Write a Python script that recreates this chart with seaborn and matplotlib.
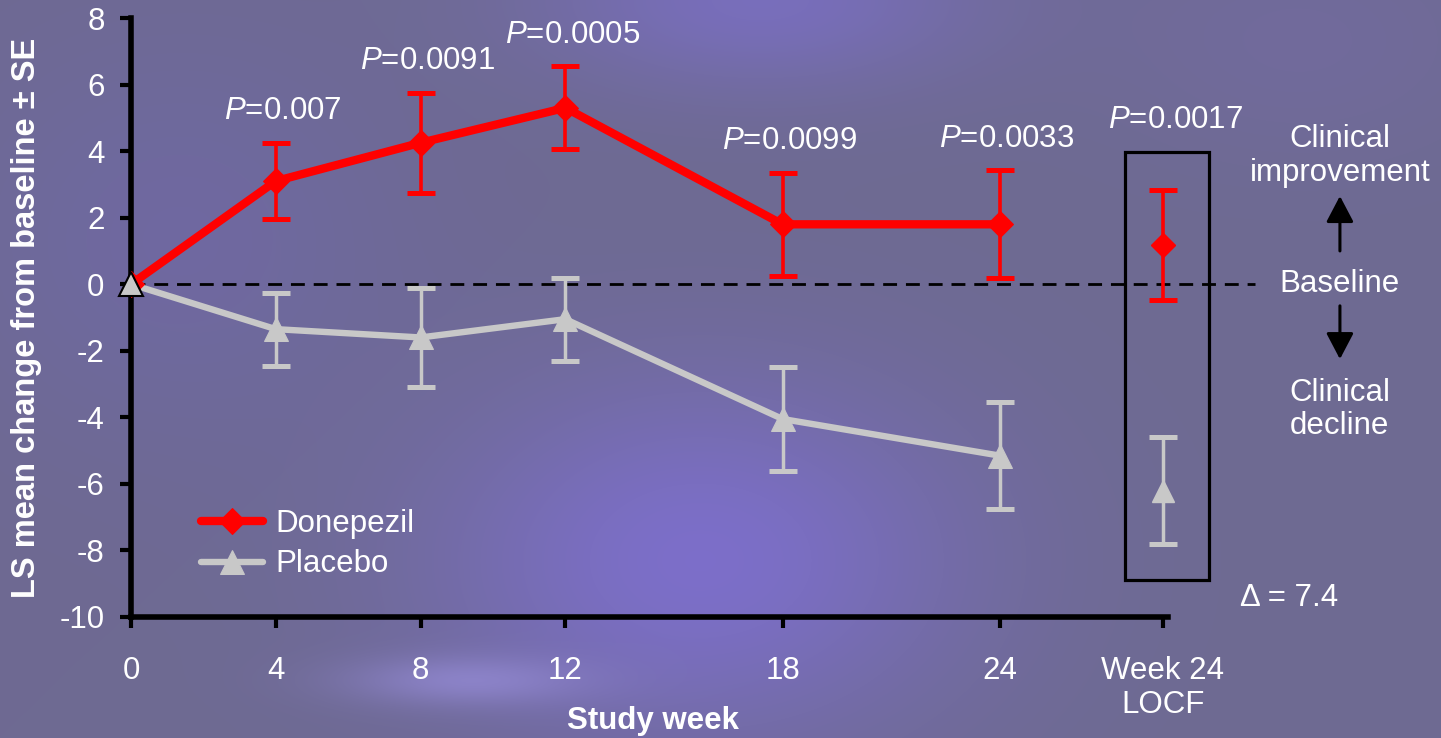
import numpy as np
import matplotlib.pyplot as plt
import seaborn as sns
from matplotlib.patches import Rectangle

# data
weeks = [0, 4, 8, 12, 18, 24]
donepezil_mean = [0.0, 3.1, 4.25, 5.3, 1.8, 1.8]
donepezil_se = [0.0, 1.15, 1.5, 1.25, 1.55, 1.62]
placebo_mean = [0.0, -1.35, -1.6, -1.05, -4.05, -5.15]
placebo_se = [0.0, 1.1, 1.5, 1.25, 1.55, 1.6]
p_values = ['0.007', '0.0091', '0.0005', '0.0099', '0.0033']

locf_x = 28.5
locf_donepezil = 1.17
locf_donepezil_se = 1.65
locf_placebo = -6.2
locf_placebo_se = 1.62
locf_p = '0.0017'
delta = locf_donepezil - locf_placebo

xtick_pos = weeks + [locf_x]
xtick_labels = [str(w) for w in weeks] + ['Week 24\nLOCF']
yticks = list(range(-10, 9, 2))

RED = '#ff0000'
GREY = '#c8c8c8'
WHITE = 'white'
FS = 22.5

sns.set_style('ticks')
plt.rcParams['font.family'] = ['Liberation Sans', 'DejaVu Sans']
plt.rcParams['axes.unicode_minus'] = False
plt.rcParams['mathtext.fontset'] = 'custom'
plt.rcParams['mathtext.it'] = 'Liberation Sans:italic'
plt.rcParams['mathtext.rm'] = 'Liberation Sans'

W, H = 1441, 738
fig = plt.figure(figsize=(W / 100, H / 100), dpi=100)

# purple slide background with soft glows
yy, xx = np.mgrid[0:H, 0:W]
bg = np.ones((H, W, 3)) * np.array([110, 106, 146]) / 255
for cx, cy, sx, sy, col, s in [(700, 560, 260, 180, (128, 112, 215), 0.8),
                              (760, 0, 220, 90, (125, 112, 205), 0.7),
                              (470, 680, 120, 25, (150, 140, 215), 0.7),
                              (180, 240, 220, 200, (112, 104, 170), 0.6),
                              (1300, 40, 200, 120, (118, 108, 170), 0.4)]:
    g = s * np.exp(-(((xx - cx) / sx) ** 2 + ((yy - cy) / sy) ** 2))
    bg = bg * (1 - g[..., None]) + np.array(col) / 255 * g[..., None]
fig.figimage(bg, xo=0, yo=0, origin='upper', zorder=-10)

ax = fig.add_axes([131 / W, 1 - 617 / H, (1168 - 131) / W, (617 - 18) / H])
ax.patch.set_alpha(0)

# baseline
ax.plot([0, 31.05], [0, 0], color='black', lw=2, dashes=(5, 3.2), clip_on=False, zorder=1)

sns.lineplot(x=weeks, y=placebo_mean, color=GREY, lw=4.6, marker='^', ms=17, mec=GREY,
             label='Placebo', ax=ax, zorder=3)
sns.lineplot(x=weeks, y=donepezil_mean, color=RED, lw=6, marker='D', ms=13, mec=RED,
             label='Donepezil', ax=ax, zorder=4)

ax.errorbar(weeks[1:], placebo_mean[1:], yerr=placebo_se[1:], fmt='none', ecolor=GREY,
            elinewidth=2.5, capsize=10, capthick=3.6, zorder=3)
ax.errorbar(weeks[1:], donepezil_mean[1:], yerr=donepezil_se[1:], fmt='none', ecolor=RED,
            elinewidth=2.6, capsize=10, capthick=3.6, zorder=4)
# start point: black-edged triangle on top
ax.plot(weeks[0], placebo_mean[0], marker='^', ms=17, mfc=GREY, mec='black', mew=1.5,
        clip_on=False, zorder=6)

# LOCF points
ax.errorbar([locf_x], [locf_placebo], yerr=[locf_placebo_se], fmt='^', color=GREY, ms=16,
            elinewidth=2.5, capsize=10, capthick=3.6, clip_on=False, zorder=3)
ax.errorbar([locf_x], [locf_donepezil], yerr=[locf_donepezil_se], fmt='D', color=RED, ms=12,
            elinewidth=2.6, capsize=10, capthick=3.6, clip_on=False, zorder=4)
box = Rectangle((27.46, -8.89), 2.32, 12.86, fill=False, ec='black', lw=2.3, clip_on=False, zorder=2)
ax.add_patch(box)

# p-values
for w, m, s, p in zip(weeks[1:], donepezil_mean[1:], donepezil_se[1:], p_values):
    ax.text(w + 0.2, m + s + 0.95, r'$\it{P}$=' + p, color=WHITE, fontsize=FS,
            ha='center', va='center')
ax.text(locf_x + 0.35, 3.97 + 0.95, r'$\it{P}$=' + locf_p, color=WHITE, fontsize=FS,
        ha='center', va='center')

# right-hand annotations
tx = 33.4
ax.text(tx, 3.85, 'Clinical\nimprovement', color=WHITE, fontsize=FS, ha='center', va='center',
        linespacing=1.15)
ax.text(tx, 0, 'Baseline', color=WHITE, fontsize=FS, ha='center', va='center')
ax.text(tx, -3.76, 'Clinical\ndecline', color=WHITE, fontsize=FS, ha='center', va='center',
        linespacing=1.15)
arrow = dict(arrowstyle='-|>,head_length=0.8,head_width=0.42', color='black', lw=2.2,
             mutation_scale=20, shrinkA=0, shrinkB=0)
ax.annotate('', xy=(tx, 2.65), xytext=(tx, 1.0), arrowprops=arrow, annotation_clip=False)
ax.annotate('', xy=(tx, -2.25), xytext=(tx, -0.65), arrowprops=arrow, annotation_clip=False)
ax.text(32.0, -9.43, '\u0394 = %.1f' % delta, color=WHITE, fontsize=FS, ha='center', va='center')

ax.set_xlim(0, 28.65)
ax.set_ylim(-10, 8)
ax.set_xticks(xtick_pos)
ax.set_xticklabels(xtick_labels)
ax.set_yticks(yticks)
ax.tick_params(axis='both', colors='black', labelcolor=WHITE, labelsize=FS, length=8, width=3,
               direction='out')
ax.tick_params(axis='y', pad=11)
ax.tick_params(axis='x', pad=20)
for side in ['top', 'right']:
    ax.spines[side].set_visible(False)
for side in ['left', 'bottom']:
    ax.spines[side].set_linewidth(4)
    ax.spines[side].set_color('black')

ax.set_ylabel('LS mean change from baseline \u00b1 SE', color=WHITE, fontsize=23.5, fontweight='bold')
ax.yaxis.set_label_coords(-0.086, 0.5)
ax.set_xlabel('Study week', color=WHITE, fontsize=FS, fontweight='bold')
ax.xaxis.set_label_coords(0.503, -0.149)

handles, labels = ax.get_legend_handles_labels()
order = [labels.index('Donepezil'), labels.index('Placebo')]
leg = ax.legend([handles[i] for i in order], [labels[i] for i in order], loc='upper left',
                bbox_to_anchor=(0.04, 0.228), frameon=False, fontsize=FS, handlelength=2.0,
                handletextpad=0.4, labelspacing=0.35)
for t in leg.get_texts():
    t.set_color(WHITE)

fig.savefig('out.png', dpi=100)
